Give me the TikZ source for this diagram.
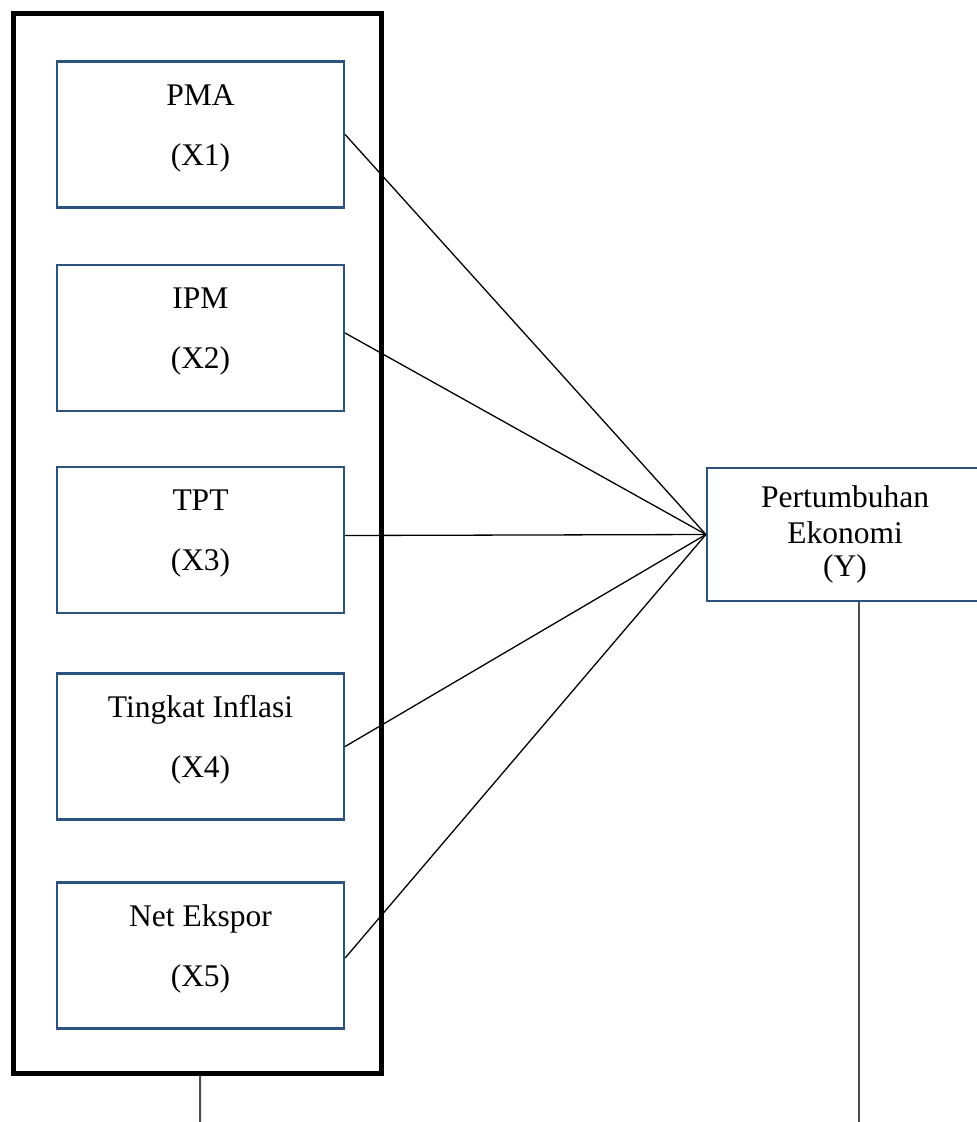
\documentclass[tikz,border=0pt]{standalone}
\usepackage{fontspec}
\setmainfont{Liberation Serif}
\usetikzlibrary{calc}
\definecolor{boxblue}{RGB}{44,82,128}
\definecolor{stemgrey}{RGB}{78,78,78}
\begin{document}
\begin{tikzpicture}[x=1pt,y=-1pt,
  varbox/.style={draw=boxblue,line width=2.2pt,minimum width=287pt,minimum height=146pt,inner sep=0pt},
  ybox/.style={draw=boxblue,line width=2.2pt,minimum width=276pt,minimum height=133pt,inner sep=0pt},
  outerbox/.style={draw=black,line width=5pt,minimum width=368.5pt,minimum height=1060.5pt,inner sep=0pt},
  lbl/.style={anchor=base,inner sep=0pt,font=\fontsize{31.5}{36}\selectfont},
  link/.style={draw=black,line width=1.3pt},
  stem/.style={draw=stemgrey,line width=2pt}]
\useasboundingbox (0,0) rectangle (977,1122);
\clip (0,0) rectangle (977,1122);
\fill[white] (0,0) rectangle (977,1122);
% outer frame
\node[outerbox] (outer) at (197.25,543.25) {};
% variable boxes
\node[varbox] (X1) at (200.5,134.5) {};
\node[varbox] (X2) at (200.5,338) {};
\node[varbox] (X3) at (200.5,540) {};
\node[varbox] (X4) at (200.5,746.5) {};
\node[varbox] (X5) at (200.5,955.5) {};
\node[ybox] (Y) at (845,534.5) {};
% labels
\node[lbl] (t1a) at ([yshift=-45pt]X1.north) {PMA};
\node[lbl] (t1b) at ([yshift=-105pt]X1.north) {(X1)};
\node[lbl] (t2a) at ([yshift=-45pt]X2.north) {IPM};
\node[lbl] (t2b) at ([yshift=-105pt]X2.north) {(X2)};
\node[lbl] (t3a) at ([yshift=-45pt]X3.north) {TPT};
\node[lbl] (t3b) at ([yshift=-105pt]X3.north) {(X3)};
\node[lbl] (t4a) at ([yshift=-45pt]X4.north) {Tingkat Inflasi};
\node[lbl] (t4b) at ([yshift=-105pt]X4.north) {(X4)};
\node[lbl] (t5a) at ([yshift=-45pt]X5.north) {Net Ekspor};
\node[lbl] (t5b) at ([yshift=-105pt]X5.north) {(X5)};
\node[lbl] (ya) at ([yshift=-41pt]Y.north) {Pertumbuhan};
\node[lbl] (yb) at ([yshift=-77pt]Y.north) {Ekonomi};
\node[lbl] (yc) at ([yshift=-110pt]Y.north) {(Y)};
% connectors
\draw[link] (X1.east) -- (Y.west);
\draw[link] ([yshift=5pt]X2.east) -- (Y.west);
\draw[link] ([yshift=4.5pt]X3.east) -- (Y.west);
\draw[link] (X4.east) -- (Y.west);
\draw[link] ([yshift=-2.5pt]X5.east) -- (Y.west);
% stems
\coordinate (s1) at (200,1122);
\coordinate (s2) at (859,1122);
\draw[stem] ([xshift=3pt]outer.south) -- (s1);
\draw[stem] ([xshift=14pt]Y.south) -- (s2);
\end{tikzpicture}
\end{document}
